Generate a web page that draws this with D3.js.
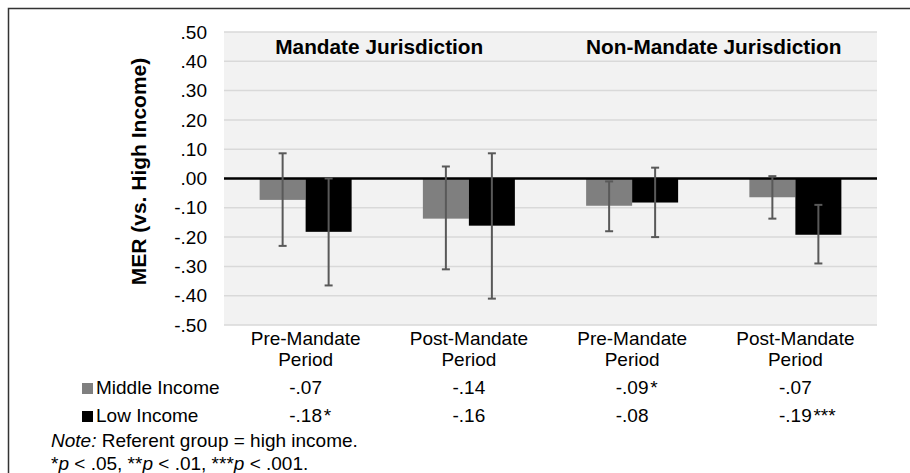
<!DOCTYPE html>
<html>
<head>
<meta charset="utf-8">
<script src="https://cdn.jsdelivr.net/npm/d3@7"></script>
<style>
  body { margin: 0; background: #fff; }
  svg text { font-family: "Liberation Sans", Arial, sans-serif; fill: #000; }
</style>
</head>
<body>
<div id="chart"></div>
<script>
// 数据
const periods = ["Pre-Mandate|Period", "Post-Mandate|Period", "Pre-Mandate|Period", "Post-Mandate|Period"]
const jurisdictions = ["Mandate Jurisdiction", "Non-Mandate Jurisdiction"]
const seriesNames = ["Middle Income", "Low Income"]
const middleIncome = [-0.073, -0.137, -0.093, -0.064]
const lowIncome = [-0.182, -0.161, -0.082, -0.192]
// 误差线上下限
const middleLow = [-0.23, -0.31, -0.18, -0.137]
const middleHigh = [0.086, 0.041, -0.01, 0.008]
const lowLow = [-0.365, -0.41, -0.20, -0.29]
const lowHigh = [0.0, 0.086, 0.037, -0.09]
// 表格里的数值和显著性
const middleLabels = ["-.07", "-.14", "-.09", "-.07"]
const middleStars = ["", "", "*", ""]
const lowLabels = ["-.18", "-.16", "-.08", "-.19"]
const lowStars = ["*", "", "", "***"]
const yTicks = [0.5, 0.4, 0.3, 0.2, 0.1, 0, -0.1, -0.2, -0.3, -0.4, -0.5]

const config = {
  width: 910,
  height: 473,
  left: 224,
  right: 877,
  top: 32,
  bottom: 325,
  barWidth: 46,
  colors: ["#7f7f7f", "#000000"],
  fontSize: "19px",
}

const svg = d3.select("#chart").append("svg")
  .attr("width", config.width)
  .attr("height", config.height)

// 外框（只看得到上边和左边）
svg.append("path")
  .attr("d", `M8.5,${config.height}V8.5H${config.width}`)
  .attr("fill", "none")
  .attr("stroke", "#333")
  .attr("stroke-width", 1.5)

const x = d3.scaleBand().domain(d3.range(periods.length)).range([config.left, config.right])
const y = d3.scaleLinear().domain([-0.5, 0.5]).range([config.bottom, config.top])

// 绘图区背景
svg.append("rect")
  .attr("x", config.left)
  .attr("y", config.top)
  .attr("width", config.right - config.left)
  .attr("height", config.bottom - config.top)
  .attr("fill", "#f2f2f2")

// 网格线
svg.append("g").selectAll("line")
  .data(yTicks.filter(d => d !== 0))
  .enter()
  .append("line")
  .attr("x1", config.left)
  .attr("x2", config.right)
  .attr("y1", d => y(d))
  .attr("y2", d => y(d))
  .attr("stroke", "#d9d9d9")
  .attr("stroke-width", 1.5)

// y轴刻度，去掉前导0，用普通连字符做负号
const fmt = d => d3.format(".2f")(d).replace("\u2212", "-").replace("0.", ".")
svg.append("g").selectAll("text")
  .data(yTicks)
  .enter()
  .append("text")
  .attr("x", 207)
  .attr("y", d => y(d))
  .attr("dy", "0.35em")
  .attr("text-anchor", "end")
  .style("font-size", config.fontSize)
  .text(fmt)

// y轴标题
svg.append("text")
  .attr("transform", `translate(146,${(config.top + config.bottom) / 2 - 7}) rotate(-90)`)
  .attr("text-anchor", "middle")
  .style("font-size", "21px")
  .style("font-weight", "bold")
  .text("MER (vs. High Income)")

// 辖区标题
svg.append("g").selectAll("text")
  .data(jurisdictions)
  .enter()
  .append("text")
  .attr("x", (d, i) => (x(i * 2) + x(i * 2 + 1) + x.bandwidth()) / 2 - (i === 0 ? 8 : 0))
  .attr("y", 54)
  .attr("text-anchor", "middle")
  .style("font-size", "20.8px")
  .style("font-weight", "bold")
  .text(d => d)

// 柱子
const series = [middleIncome, lowIncome]
const errLow = [middleLow, lowLow]
const errHigh = [middleHigh, lowHigh]
const barX = (i, s) => x(i) + x.bandwidth() / 2 + (s - 1) * config.barWidth

series.forEach((vals, s) => {
  svg.append("g").selectAll("rect")
    .data(vals)
    .enter()
    .append("rect")
    .attr("x", (d, i) => barX(i, s))
    .attr("y", d => Math.min(y(0), y(d)))
    .attr("width", config.barWidth)
    .attr("height", d => Math.abs(y(d) - y(0)))
    .attr("fill", config.colors[s])
})

// 零线
svg.append("line")
  .attr("x1", config.left)
  .attr("x2", config.right)
  .attr("y1", y(0))
  .attr("y2", y(0))
  .attr("stroke", "#000")
  .attr("stroke-width", 2.5)

// 误差线
series.forEach((vals, s) => {
  const g = svg.append("g").attr("stroke", "#595959").attr("stroke-width", 2)
  vals.forEach((v, i) => {
    const cx = barX(i, s) + config.barWidth / 2
    const lo = y(errLow[s][i])
    const hi = y(errHigh[s][i])
    g.append("line").attr("x1", cx).attr("x2", cx).attr("y1", hi).attr("y2", lo)
    g.append("line").attr("x1", cx - 4).attr("x2", cx + 4).attr("y1", hi).attr("y2", hi)
    g.append("line").attr("x1", cx - 4).attr("x2", cx + 4).attr("y1", lo).attr("y2", lo)
  })
})

// 类别标签
const catG = svg.append("g").selectAll("text")
  .data(periods)
  .enter()
  .append("text")
  .attr("text-anchor", "middle")
  .style("font-size", config.fontSize)
catG.selectAll("tspan")
  .data((d, i) => d.split("|").map(t => ({ t, i })))
  .enter()
  .append("tspan")
  .attr("x", d => x(d.i) + x.bandwidth() / 2)
  .attr("y", (d, j) => 345 + j * 20.7)
  .text(d => d.t)

// 数据表
const rows = [
  { name: seriesNames[0], labels: middleLabels, stars: middleStars, y: 394 },
  { name: seriesNames[1], labels: lowLabels, stars: lowStars, y: 422 },
]
rows.forEach((r, s) => {
  svg.append("rect")
    .attr("x", 82)
    .attr("y", r.y - 11)
    .attr("width", 11)
    .attr("height", 11)
    .attr("fill", config.colors[s])
  svg.append("text")
    .attr("x", 96)
    .attr("y", r.y)
    .style("font-size", config.fontSize)
    .text(r.name)
  r.labels.forEach((lab, i) => {
    const cx = x(i) + x.bandwidth() / 2
    svg.append("text")
      .attr("x", cx)
      .attr("y", r.y)
      .attr("text-anchor", "middle")
      .style("font-size", config.fontSize)
      .text(lab)
    if (r.stars[i]) {
      svg.append("text")
        .attr("x", cx + 18)
        .attr("y", r.y)
        .style("font-size", config.fontSize)
        .text(r.stars[i])
    }
  })
})

// 注释
const note1 = svg.append("text").attr("x", 51).attr("y", 446.5).style("font-size", config.fontSize)
note1.append("tspan").style("font-style", "italic").text("Note:")
note1.append("tspan").text(" Referent group = high income.")

const note2 = svg.append("text").attr("x", 51).attr("y", 470).style("font-size", config.fontSize)
const parts = [["*", false], ["p", true], [" < .05, **", false], ["p", true], [" < .01, ***", false], ["p", true], [" < .001.", false]]
parts.forEach(p => {
  note2.append("tspan").style("font-style", p[1] ? "italic" : "normal").text(p[0])
})
</script>
</body>
</html>
